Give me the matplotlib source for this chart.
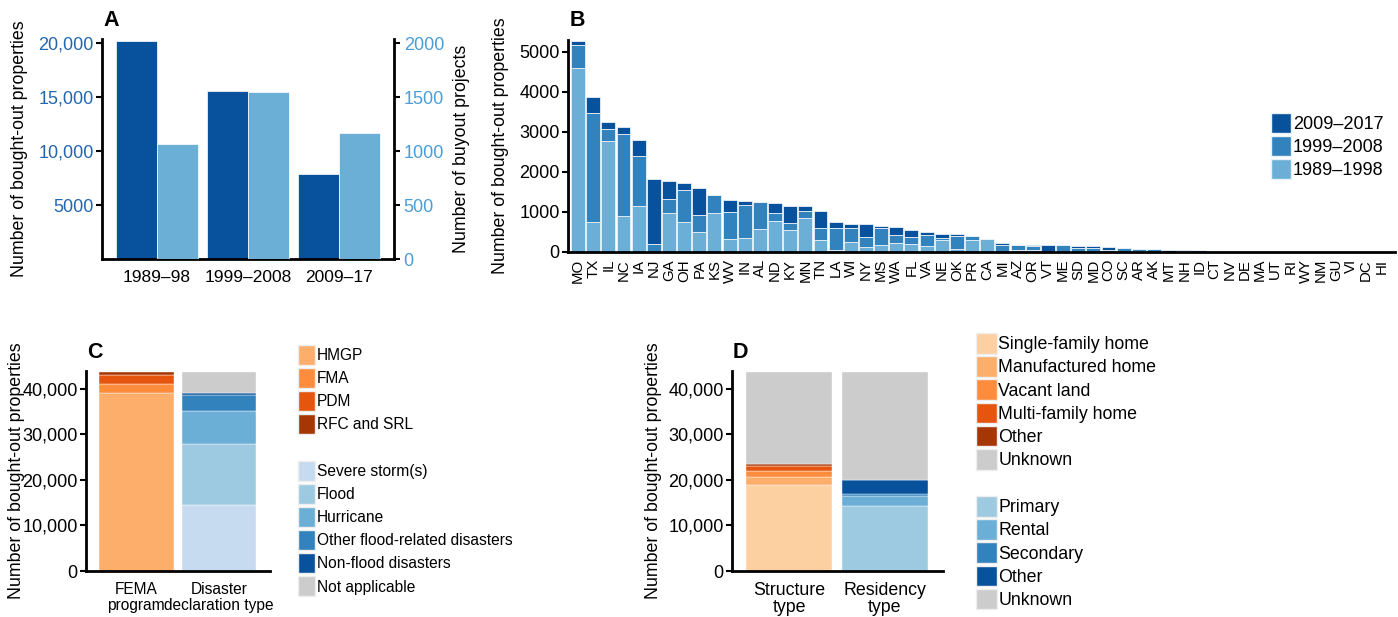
import matplotlib
matplotlib.use("Agg")
import matplotlib.pyplot as plt
from matplotlib.patches import Patch
import numpy as np

plt.rcParams['font.family'] = ['Liberation Sans', 'DejaVu Sans']
plt.rcParams['font.size'] = 12

# ---------------- data ----------------
# panel A
periods_a = ['1989–98', '1999–2008', '2009–17']
props_a = [20250, 15600, 7850]
projects_a = [1063, 1545, 1171]

# panel B (stacked: 1989-1998 bottom, 1999-2008 middle, 2009-2017 top)
states = ['MO', 'TX', 'IL', 'NC', 'IA', 'NJ', 'GA', 'OH', 'PA', 'KS', 'WV', 'IN', 'AL', 'ND',
          'KY', 'MN', 'TN', 'LA', 'WI', 'NY', 'MS', 'WA', 'FL', 'VA', 'NE', 'OK', 'PR', 'CA',
          'MI', 'AZ', 'OR', 'VT', 'ME', 'SD', 'MD', 'CO', 'SC', 'AR', 'AK', 'MT', 'NH', 'ID',
          'CT', 'NV', 'DE', 'MA', 'UT', 'RI', 'WY', 'NM', 'GU', 'VI', 'DC', 'HI']
p1989 = [4600, 750, 2775, 892, 1158, 0, 967, 750, 508, 983, 333, 350, 575, 775,
         550, 842, 292, 42, 242, 125, 167, 225, 208, 142, 292, 83, 292, 317,
         0, 60, 50, 0, 0, 0, 0, 0, 0, 25, 10, 0, 0, 42,
         33, 0, 0, 0, 0, 0, 0, 0, 0, 0, 0, 0]
p1999 = [583, 2725, 308, 2050, 1234, 208, 358, 792, 409, 450, 659, 817, 665, 192,
         167, 191, 316, 550, 366, 258, 425, 200, 175, 283, 66, 317, 108, 0,
         183, 123, 100, 0, 167, 90, 110, 60, 90, 50, 57, 10, 20, 0,
         0, 0, 0, 0, 0, 0, 0, 0, 0, 0, 0, 0]
p2009 = [100, 400, 175, 183, 408, 1625, 442, 191, 691, 0, 308, 116, 20, 266,
         441, 125, 425, 166, 92, 309, 50, 192, 159, 83, 100, 42, 0, 0,
         50, 0, 33, 167, 0, 68, 40, 73, 10, 0, 0, 40, 30, 0,
         0, 0, 0, 0, 0, 0, 0, 0, 0, 0, 0, 0]

# panel C
c_bars = ['FEMA\nprogram', 'Disaster\ndeclaration type']
fema_labels = ['HMGP', 'FMA', 'PDM', 'RFC and SRL']
fema_vals = [38950, 2050, 1900, 800]
dis_labels = ['Severe storm(s)', 'Flood', 'Hurricane', 'Other flood-related disasters',
              'Non-flood disasters', 'Not applicable']
dis_vals = [14550, 13240, 7240, 3510, 440, 4720]

# panel D
d_bars = ['Structure\ntype', 'Residency\ntype']
struct_labels = ['Single-family home', 'Manufactured home', 'Vacant land',
                 'Multi-family home', 'Other', 'Unknown']
struct_vals = [18800, 1820, 1320, 1020, 510, 20230]
res_labels = ['Primary', 'Rental', 'Secondary', 'Other', 'Unknown']
res_vals = [14190, 2190, 510, 3000, 23810]

# ---------------- colours ----------------
dark, mid, light = '#08519c', '#3182bd', '#6baed6'
fema_cols = ['#fdae6b', '#fd8d3c', '#e6550d', '#a63603']
dis_cols = ['#c6dbef', '#9ecae1', '#6baed6', '#3182bd', '#08519c', '#cccccc']
struct_cols = ['#fdd0a2', '#fdae6b', '#fd8d3c', '#e6550d', '#a63603', '#cccccc']
res_cols = ['#9ecae1', '#6baed6', '#3182bd', '#08519c', '#cccccc']

W, H = 1398, 617
fig = plt.figure(figsize=(W / 100, H / 100), dpi=100)


def px_axes(l, r, t, b):
    return fig.add_axes([l / W, 1 - b / H, (r - l) / W, (b - t) / H])


def style(ax):
    for s in ['top', 'right']:
        ax.spines[s].set_visible(False)
    ax.spines['left'].set_linewidth(2)
    ax.spines['bottom'].set_linewidth(2)
    ax.tick_params(axis='y', length=4, width=1.5, pad=2)
    ax.tick_params(axis='x', length=0)


def comma(v):
    return f'{v:,}'


# ---------------- A ----------------
axA = px_axes(102, 394, 39, 259)
x = np.arange(len(periods_a))
axA.bar(x - 0.225, props_a, width=0.45, color=dark, edgecolor='white', linewidth=0.5)
axA.set_xlim(-0.6, 2.6)
axA.set_ylim(0, 20400)
style(axA)
axA.set_yticks([5000, 10000, 15000, 20000], ['5000', '10,000', '15,000', '20,000'])
axA.tick_params(axis='y', labelcolor='#2266b0', labelsize=13)
axA.set_xticks(x, periods_a)
axA.tick_params(axis='x', pad=8, labelsize=12.5)
axA.set_ylabel('Number of bought-out properties', fontsize=12.8)
axA.yaxis.set_label_coords(-0.253, 0.5)
axA2 = axA.twinx()
axA2.bar(x + 0.225, projects_a, width=0.45, color=light, edgecolor='white', linewidth=0.5)
axA2.set_ylim(0, 2040)
for s in ['top', 'left', 'bottom']:
    axA2.spines[s].set_visible(False)
axA2.spines['right'].set_linewidth(2)
axA2.set_yticks([0, 500, 1000, 1500, 2000])
axA2.tick_params(axis='y', length=4, width=1.5, pad=3, labelcolor='#4a9dd6', labelsize=13)
axA2.set_ylabel('Number of buyout projects', fontsize=12.8, rotation=90)
axA2.yaxis.set_label_coords(1.202, 0.5)
fig.text(103 / W, 1 - 21 / H, 'A', fontsize=15.5, fontweight='bold', va='center', ha='left')

# ---------------- B ----------------
axB = px_axes(568, 1395, 40, 252)
xb = np.arange(len(states))
b1 = np.array(p1989)
b2 = np.array(p1999)
b3 = np.array(p2009)
edge = '#e8f1f8'
axB.bar(xb, b1, width=0.92, color=light, edgecolor=edge, linewidth=0.6)
axB.bar(xb, b2, bottom=b1, width=0.92, color=mid, edgecolor=edge, linewidth=0.6)
axB.bar(xb, b3, bottom=b1 + b2, width=0.92, color=dark, edgecolor=edge, linewidth=0.6)
axB.set_xlim(-0.66, 53.9)
axB.set_ylim(0, 5300)
style(axB)
axB.set_yticks([0, 1000, 2000, 3000, 4000, 5000])
axB.tick_params(axis='y', labelsize=13)
axB.set_xticks(xb, states, rotation=90)
axB.tick_params(axis='x', pad=5, labelsize=10.8)
axB.set_ylabel('Number of bought-out properties', fontsize=12.8)
axB.yaxis.set_label_coords(-0.071, 0.5)
hB = [Patch(facecolor=c, edgecolor=edge) for c in (dark, mid, light)]
fig.legend(hB, ['2009–2017', '1999–2008', '1989–1998'], loc='upper left',
           bbox_to_anchor=(1271 / W, 1 - 113 / H), frameon=False, fontsize=13,
           handlelength=1.12, handleheight=1.33, handletextpad=0.1, labelspacing=0.16,
           borderpad=0, borderaxespad=0)
fig.text(570 / W, 1 - 21 / H, 'B', fontsize=15.5, fontweight='bold', va='center', ha='left')

# ---------------- C ----------------
axC = px_axes(86, 270, 371, 571)
bottom = 0
for v, c in zip(fema_vals, fema_cols):
    axC.bar(0, v, bottom=bottom, width=0.9, color=c, edgecolor='white', linewidth=0.3)
    bottom += v
bottom = 0
for v, c in zip(dis_vals, dis_cols):
    axC.bar(1, v, bottom=bottom, width=0.9, color=c, edgecolor='white', linewidth=0.3)
    bottom += v
axC.set_xlim(-0.607, 1.613)
axC.set_ylim(0, 43860)
style(axC)
yt = [0, 10000, 20000, 30000, 40000]
axC.set_yticks(yt, [comma(v) for v in yt])
axC.tick_params(axis='y', labelsize=13)
axC.set_xticks([0, 1], c_bars)
axC.tick_params(axis='x', pad=8, labelsize=11.2)
for t in axC.get_xticklabels():
    t.set_linespacing(1.05)
axC.set_ylabel('Number of bought-out properties', fontsize=12.8)
axC.yaxis.set_label_coords(-0.33, 0.5)
fig.text(87 / W, 1 - 352 / H, 'C', fontsize=15.5, fontweight='bold', va='center', ha='left')

legC = dict(loc='upper left', frameon=False, fontsize=11.2, handlelength=1.09, handleheight=1.6,
            handletextpad=0.1, labelspacing=0.2, borderpad=0, borderaxespad=0)
fig.legend([Patch(facecolor=c, edgecolor='#eeeeee') for c in fema_cols], fema_labels,
           bbox_to_anchor=(298 / W, 1 - 345 / H), **legC)
fig.legend([Patch(facecolor=c, edgecolor='#eeeeee') for c in dis_cols], dis_labels,
           bbox_to_anchor=(298 / W, 1 - 461 / H), **legC)

# ---------------- D ----------------
axD = px_axes(732, 943, 371, 571)
bottom = 0
for v, c in zip(struct_vals, struct_cols):
    axD.bar(0, v, bottom=bottom, width=0.9, color=c, edgecolor='white', linewidth=0.3)
    bottom += v
bottom = 0
for v, c in zip(res_vals, res_cols):
    axD.bar(1, v, bottom=bottom, width=0.9, color=c, edgecolor='white', linewidth=0.3)
    bottom += v
axD.set_xlim(-0.597, 1.608)
axD.set_ylim(0, 43860)
style(axD)
axD.set_yticks(yt, [comma(v) for v in yt])
axD.tick_params(axis='y', labelsize=13)
axD.set_xticks([0, 1], d_bars)
axD.tick_params(axis='x', pad=8, labelsize=12.8)
for t in axD.get_xticklabels():
    t.set_linespacing(1.0)
axD.set_ylabel('Number of bought-out properties', fontsize=12.8)
axD.yaxis.set_label_coords(-0.33, 0.5)
fig.text(733 / W, 1 - 352 / H, 'D', fontsize=15.5, fontweight='bold', va='center', ha='left')

legD = dict(loc='upper left', frameon=False, fontsize=12.8, handlelength=1.16, handleheight=1.4,
            handletextpad=0.1, labelspacing=0.15, borderpad=0, borderaxespad=0)
fig.legend([Patch(facecolor=c, edgecolor='#eeeeee') for c in struct_cols], struct_labels,
           bbox_to_anchor=(976 / W, 1 - 333 / H), **legD)
fig.legend([Patch(facecolor=c, edgecolor='#eeeeee') for c in res_cols], res_labels,
           bbox_to_anchor=(976 / W, 1 - 496 / H), **legD)

fig.savefig('out.png', dpi=100)
